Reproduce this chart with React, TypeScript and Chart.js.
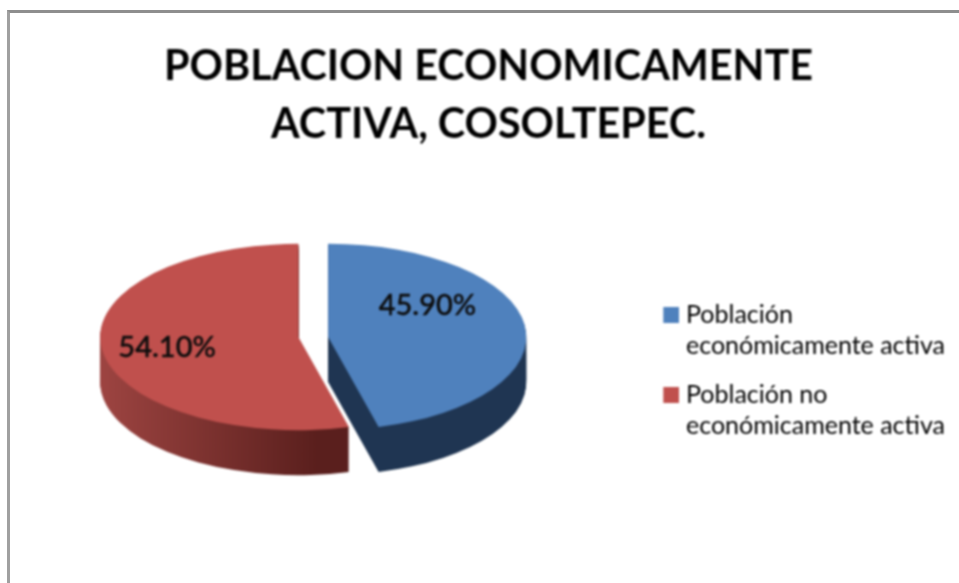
import React, { useEffect, useRef } from "react";
import { Chart, registerables } from "chart.js";

Chart.register(...registerables);

const titleLines = ["POBLACION ECONOMICAMENTE", "ACTIVA, COSOLTEPEC."];
const categories = [
  ["Población", "económicamente activa"],
  ["Población no", "económicamente activa"],
];
const seriesValues = [45.9, 54.1];
const topColors = ["#4f81bd", "#c0504d"];
const sideStops = [
  ["#1f3552", "#1f3552"],
  ["#a84a47", "#5a1f1d"],
];

const TILT = 0.47;
const FACE_CENTER_Y = 337;
const DEPTH = 45;
const EXPLODE = 15;
const PIE_SHIFT_X = -20.5;
const LABEL_SHIFT = [
  [1, -25],
  [-33, 5],
];

function swatch(color: string) {
  const c = document.createElement("canvas");
  c.width = 22;
  c.height = 16;
  const g = c.getContext("2d") as CanvasRenderingContext2D;
  g.fillStyle = color;
  g.fillRect(6, 0, 16, 16);
  return c;
}

const pie3d = {
  id: "pie3d",
  beforeDatasetsDraw(chart: any) {
    const { ctx, width } = chart;
    const meta = chart.getDatasetMeta(0);
    const arcs = meta.data;
    if (!arcs.length) return false;
    const cy = arcs[0].y;
    const cx = arcs[0].x + PIE_SHIFT_X;
    const r = arcs[0].outerRadius;

    const gradients = sideStops.map((stops, i) => {
      const g = ctx.createLinearGradient(i === 0 ? cx : cx - r - EXPLODE, 0, i === 0 ? width : cx + r * 0.2, 0);
      g.addColorStop(0, stops[0]);
      g.addColorStop(1, stops[1]);
      return g;
    });

    const paint = (arc: any, dy: number, fill: any) => {
      const mid = (arc.startAngle + arc.endAngle) / 2;
      const original = arc.options;
      arc.options = Object.create(original, {
        backgroundColor: { value: fill },
        borderColor: { value: fill },
        borderWidth: { value: 0 },
      });
      ctx.save();
      ctx.translate(Math.cos(mid) * EXPLODE + PIE_SHIFT_X, FACE_CENTER_Y + dy);
      ctx.scale(1, TILT);
      ctx.translate(0, -cy);
      arc.draw(ctx);
      ctx.restore();
      arc.options = original;
    };

    for (let d = DEPTH; d >= 1; d--) {
      arcs.forEach((arc: any, i: number) => paint(arc, d, gradients[i]));
    }
    arcs.forEach((arc: any, i: number) => paint(arc, 0, topColors[i]));

    ctx.save();
    ctx.fillStyle = "#0d0d0d";
    ctx.strokeStyle = "#0d0d0d";
    ctx.lineWidth = 0.4;
    ctx.font = "500 29px Lato";
    ctx.textAlign = "center";
    ctx.textBaseline = "middle";
    arcs.forEach((arc: any, i: number) => {
      const mid = (arc.startAngle + arc.endAngle) / 2;
      const c = arc.getCenterPoint();
      const x = c.x + Math.cos(mid) * EXPLODE + PIE_SHIFT_X + LABEL_SHIFT[i][0];
      const y = FACE_CENTER_Y + (c.y - cy) * TILT + LABEL_SHIFT[i][1];
      const label = seriesValues[i].toFixed(2) + "%";
      ctx.fillText(label, x, y);
      ctx.strokeText(label, x, y);
    });
    ctx.restore();
    return false;
  },
};

export default function App() {
  const ref = useRef<HTMLCanvasElement>(null);
  useEffect(() => {
    document.body.style.margin = "0";
    document.body.style.background = "#fff";
    const chart = new Chart(ref.current as HTMLCanvasElement, {
      type: "pie",
      data: {
        labels: categories as any,
        datasets: [{ data: seriesValues, backgroundColor: topColors, borderWidth: 0 }],
      },
      plugins: [pie3d],
      options: {
        responsive: false,
        animation: false,
        layout: { padding: { left: 22, right: 4, top: 0, bottom: 11 } },
        plugins: {
          tooltip: { enabled: false },
          title: {
            display: true,
            text: titleLines,
            color: "#000",
            font: { family: "Lato", size: 41.3, weight: "bold", lineHeight: 1.4 },
            padding: { top: 38, bottom: 22 },
          },
          legend: {
            position: "right",
            fullSize: false,
            labels: {
              color: "#333",
              font: { family: "Lato", size: 25, lineHeight: 1.25 },
              usePointStyle: true,
              pointStyleWidth: 10.5,
              boxHeight: 16,
              padding: 17.5,
              generateLabels: () =>
                categories.map((text, i) => ({
                  text: text as any,
                  fillStyle: topColors[i],
                  strokeStyle: topColors[i],
                  pointStyle: swatch(topColors[i]),
                  lineWidth: 0,
                  index: i,
                  hidden: false,
                })) as any,
            },
          },
        },
      },
    });
    return () => chart.destroy();
  }, []);
  return (
    <div style={{ position: "relative", width: 959, height: 583, background: "#fff", overflow: "hidden" }}>
      <canvas ref={ref} width={959} height={583} style={{ display: "block", filter: "blur(0.8px)" }} />
      <div
        style={{
          position: "absolute",
          left: 7,
          top: 10,
          right: 0,
          bottom: 0,
          borderLeft: "3px solid #a0a0a0",
          borderTop: "3px solid #8e8e8e",
          pointerEvents: "none",
        }}
      />
    </div>
  );
}
